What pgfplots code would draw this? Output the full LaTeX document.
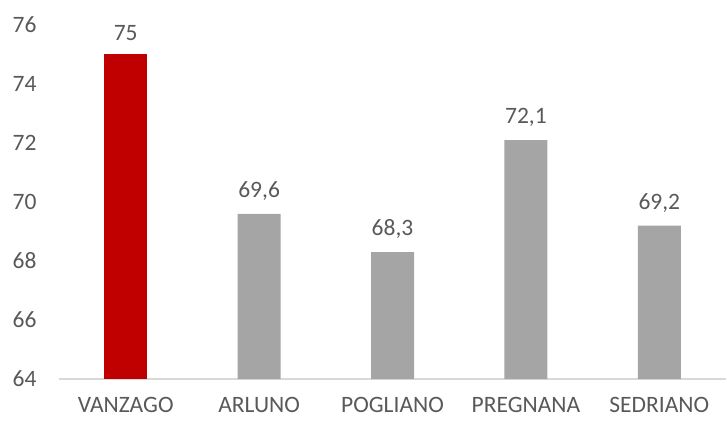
\documentclass[border=0pt]{standalone}
\usepackage{pgfplots}
\pgfplotsset{compat=1.18}
\usepackage{fontspec}
\setmainfont{Carlito}
\usetikzlibrary{calc}
\definecolor{barred}{HTML}{C00000}
\definecolor{bargray}{HTML}{A5A5A5}
\definecolor{txt}{HTML}{595959}
\definecolor{axisline}{HTML}{D9D9D9}
\begin{document}
\begin{tikzpicture}
\begin{axis}[
  name=ax,
  scale only axis,
  width=667pt, height=354pt,
  ymin=64, ymax=76,
  ytick={64,66,...,76},
  xmin=-0.5, xmax=4.5,
  xtick={0,1,2,3,4},
  xticklabels={VANZAGO,ARLUNO,POGLIANO,PREGNANA,SEDRIANO},
  axis x line*=bottom,
  axis y line*=left,
  x axis line style={draw=axisline, line width=1.2pt},
  y axis line style={draw=none},
  major tick length=0pt,
  tick label style={font=\fontsize{23.5}{26}\selectfont, text=txt},
  /pgf/number format/assume math mode=true,
  yticklabel style={xshift=-19pt},
  xticklabel style={yshift=-15pt},
  ybar, bar width=43pt,
  bar shift=0pt,
  nodes near coords,
  nodes near coords style={font=\fontsize{23.5}{26}\selectfont, text=txt, yshift=10pt,
    /pgf/number format/.cd, use comma, fixed, precision=1},
  clip=false,
]
\addplot[fill=barred, draw=none] coordinates {(0,75)};
\addplot[fill=bargray, draw=none] coordinates {(1,69.6) (2,68.3) (3,72.1) (4,69.2)};
\end{axis}
\pgfresetboundingbox
\path ($(ax.south west)+(-59pt,-44pt)$) rectangle ($(ax.north east)+(1pt,25pt)$);
\end{tikzpicture}
\end{document}
